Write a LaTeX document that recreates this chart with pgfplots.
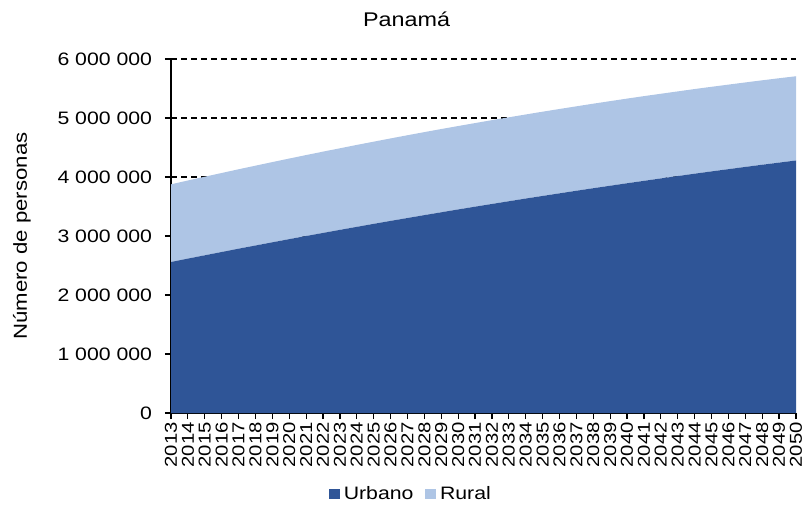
\documentclass[border=0pt]{standalone}
\usepackage{pgfplots}
\pgfplotsset{compat=1.18}
\usepackage{pgfplotstable}
\usepackage{fontspec}
\setmainfont[FakeStretch=1.18]{Liberation Sans}
\definecolor{urb}{HTML}{2F5597}
\definecolor{rur}{HTML}{AEC5E5}
\pgfplotstableread{
year urbano rural
2013 2560000 1316000
2014 2617000 1324000
2015 2673000 1332000
2016 2729000 1339000
2017 2785000 1346000
2018 2839000 1353000
2019 2893000 1360000
2020 2947000 1366000
2021 3000000 1372000
2022 3052000 1378000
2023 3104000 1383000
2024 3155000 1389000
2025 3206000 1393000
2026 3256000 1398000
2027 3305000 1403000
2028 3354000 1407000
2029 3402000 1411000
2030 3450000 1414000
2031 3497000 1417000
2032 3543000 1421000
2033 3589000 1423000
2034 3635000 1425000
2035 3679000 1428000
2036 3723000 1430000
2037 3767000 1431000
2038 3810000 1433000
2039 3852000 1434000
2040 3894000 1435000
2041 3935000 1436000
2042 3976000 1435000
2043 4016000 1435000
2044 4056000 1435000
2045 4095000 1434000
2046 4133000 1433000
2047 4171000 1432000
2048 4208000 1431000
2049 4244000 1430000
2050 4280000 1428000
}\datatable
\begin{document}
\fontsize{9}{11}\selectfont
\begin{tikzpicture}
\path[use as bounding box] (-85.5pt,-48.5pt) rectangle (317.5pt,206.5pt);
\begin{axis}[
  at={(0,0)}, anchor=south west,
  scale only axis, width=312.5pt, height=177pt,
  xmin=2013, xmax=2050, ymin=0, ymax=6000000,
  axis lines=left, axis line style={-, line width=1.1pt},
  xtick={2013,...,2050}, ytick={0,1000000,...,6000000},
  tick align=outside, major tick length=3pt,
  tick style={black, line width=0.6pt},
  scaled y ticks=false,
  /pgf/number format/assume math mode=true,
  yticklabel style={/pgf/number format/fixed, /pgf/number format/1000 sep={\ }, font=\fontsize{9}{11}\selectfont, xshift=-3.3pt},
  xticklabel style={/pgf/number format/1000 sep={}, rotate=90, anchor=east, font=\fontsize{8.6}{10}\selectfont, inner sep=1.5pt},
  ymajorgrids, grid style={black, line width=0.75pt, dash pattern=on 3pt off 2pt},
  ylabel={Número de personas},
  ylabel style={at={(axis description cs:-0.2384,0.5)}, anchor=center, font=\fontsize{9.4}{11}\selectfont},
  stack plots=y,
  area legend,
  legend columns=2,
  legend style={draw=none, at={(axis description cs:0.3856,-0.229)}, anchor=center, font=\fontsize{9}{11}\selectfont, /tikz/every even column/.append style={column sep=4pt}},
  legend image code/.code={\fill[#1] (0pt,-2.7pt) rectangle (5.3pt,2.7pt);},
]
\addplot[fill=urb, draw=none] table[x=year, y=urbano] {\datatable} \closedcycle;
\addlegendentry{Urbano}
\addplot[fill=rur, draw=none] table[x=year, y=rural] {\datatable} \closedcycle;
\addlegendentry{Rural}
\end{axis}
\node[anchor=base] at (117.8pt,193.2pt) {\fontsize{9.9}{11}\selectfont Panamá};
\end{tikzpicture}
\end{document}
